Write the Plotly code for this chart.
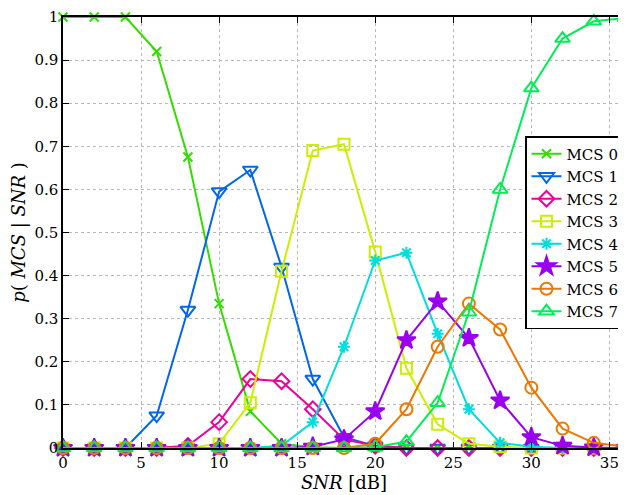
import plotly.graph_objects as go

snr = [0, 2, 4, 6, 8, 10, 12, 14, 16, 18, 20, 22, 24, 26, 28, 30, 32, 34, 36]

mcs0 = [1.0, 1.0, 1.0, 0.92, 0.675, 0.335, 0.085, 0.01, 0.002, 0, 0, 0, 0, 0, 0, 0, 0, 0, 0]
mcs1 = [0, 0, 0, 0.075, 0.32, 0.595, 0.645, 0.42, 0.16, 0.025, 0.005, 0, 0, 0, 0, 0, 0, 0, 0]
mcs2 = [0, 0, 0, 0, 0.005, 0.06, 0.16, 0.155, 0.09, 0.02, 0.005, 0, 0, 0, 0, 0, 0, 0, 0]
mcs3 = [0, 0, 0, 0, 0, 0.01, 0.105, 0.41, 0.69, 0.705, 0.455, 0.185, 0.055, 0.01, 0.003, 0, 0, 0, 0]
mcs4 = [0, 0, 0, 0, 0, 0, 0, 0.005, 0.06, 0.235, 0.435, 0.453, 0.265, 0.09, 0.012, 0.003, 0, 0, 0]
mcs5 = [0, 0, 0, 0, 0, 0, 0, 0, 0.003, 0.02, 0.085, 0.25, 0.34, 0.255, 0.11, 0.025, 0.005, 0.001, 0]
mcs6 = [0, 0, 0, 0, 0, 0, 0, 0, 0, 0, 0.01, 0.09, 0.235, 0.335, 0.275, 0.14, 0.045, 0.012, 0.003]
mcs7 = [0, 0, 0, 0, 0, 0, 0, 0, 0, 0, 0.002, 0.015, 0.105, 0.315, 0.6, 0.835, 0.95, 0.99, 0.998]

names = ["MCS 0", "MCS 1", "MCS 2", "MCS 3", "MCS 4", "MCS 5", "MCS 6", "MCS 7"]
series = [mcs0, mcs1, mcs2, mcs3, mcs4, mcs5, mcs6, mcs7]
colors = ["#33dd00", "#0066ee", "#ee0099", "#ccee00", "#00dddd", "#9900ee", "#ee7700", "#00ee55"]
symbols = ["x-thin-open", "triangle-down-open", "diamond-open", "square-open",
           "asterisk-open", "star", "circle-open", "triangle-up-open"]
sizes = [9, 13, 12, 11, 10, 14, 12, 13]

fig = go.Figure()
for name, ys, c, s, sz in zip(names, series, colors, symbols, sizes):
    fig.add_trace(go.Scatter(
        x=snr, y=ys, name=name, mode="lines+markers",
        line=dict(color=c, width=2),
        marker=dict(symbol=s, size=sz, color=c, line=dict(color=c, width=2)),
        cliponaxis=False,
    ))

font_family = "DejaVu Serif"
axis_common = dict(
    showline=True, linecolor="black", linewidth=1.5, mirror="ticks",
    ticks="inside", ticklen=6, tickcolor="black", tickwidth=1,
    showgrid=True, gridcolor="#b8b8b8", griddash="dot", gridwidth=1,
    zeroline=False, ticklabeloverflow="allow",
    tickfont=dict(family=font_family, size=15, color="black"),
)

fig.update_layout(
    template="none",
    width=626, height=495,
    margin=dict(l=55, r=9, t=9, b=55, autoexpand=False),
    paper_bgcolor="white", plot_bgcolor="white",
    font=dict(family=font_family, color="black"),
    showlegend=True,
    legend=dict(
        x=1.0, xanchor="right", y=0.5, yanchor="middle",
        bgcolor="white", bordercolor="black", borderwidth=1.5,
        font=dict(family=font_family, size=15, color="black"),
        itemwidth=30, tracegroupgap=0,
    ),
    xaxis=dict(
        range=[0, 36], tickvals=[0, 5, 10, 15, 20, 25, 30, 35],
        title=dict(text="<i>SNR</i> [dB]", font=dict(family=font_family, size=18), standoff=0),
        automargin=False,
        **axis_common,
    ),
    yaxis=dict(
        range=[0, 1], tickvals=[0, 0.1, 0.2, 0.3, 0.4, 0.5, 0.6, 0.7, 0.8, 0.9, 1],
        ticktext=["0", "0.1", "0.2", "0.3", "0.4", "0.5", "0.6", "0.7", "0.8", "0.9", "1"],
        title=dict(text="<i>p</i>( <i>MCS</i> | <i>SNR</i> )", font=dict(family=font_family, size=18), standoff=4),
        automargin=False,
        **axis_common,
    ),
)

fig.write_html("out.html")
